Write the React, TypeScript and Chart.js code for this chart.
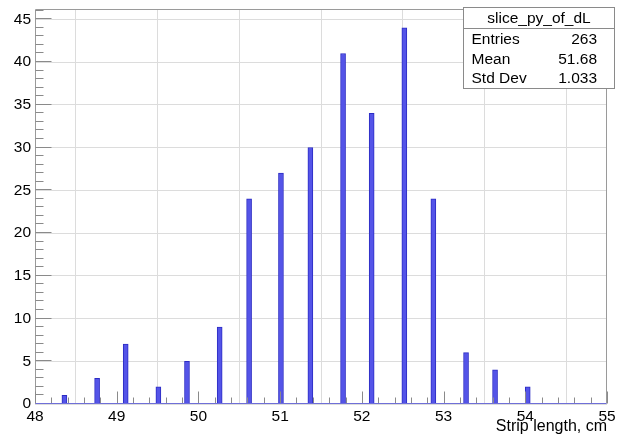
import React, { useEffect, useRef } from 'react';
import { Chart, registerables } from 'chart.js';

Chart.register(...registerables);

// Histogram bins (centres) and counts
const binCenters = [48.36, 48.76, 49.11, 49.51, 49.86, 50.26, 50.62, 51.01, 51.37, 51.77, 52.12, 52.52, 52.875, 53.275, 53.63, 54.03];
const counts = [1, 3, 7, 2, 5, 9, 24, 27, 30, 41, 34, 44, 24, 6, 4, 2];

const xTicks = [48, 49, 50, 51, 52, 53, 54, 55];
const yTicks = [0, 5, 10, 15, 20, 25, 30, 35, 40, 45];
const xMin = 48;
const xMax = 55;
const yMax = 46.2;

const xTitle = 'Strip length, cm';
const statsTitle = 'slice_py_of_dL';
const statsLabels = ['Entries', 'Mean', 'Std Dev'];
const statsValues = ['263', '51.68', '1.033'];

const FONT = "'Liberation Sans', Arial, Helvetica, sans-serif";

const rootFramePlugin = {
  id: 'rootFrame',
  afterDatasetsDraw(chart: any) {
    const { ctx, chartArea, scales } = chart;
    const { left, right, top, bottom } = chartArea;
    const xs = scales.x;
    const ys = scales.y;
    const L = Math.round(left) + 0.5;
    const R = Math.round(right) - 0.5;
    const T = Math.round(top) + 0.5;
    const B = Math.round(bottom) - 0.5;
    ctx.save();
    ctx.lineWidth = 1;
    ctx.strokeStyle = '#9a9a9a';
    // frame
    ctx.beginPath();
    ctx.moveTo(L, B);
    ctx.lineTo(L, T);
    ctx.lineTo(R, T);
    ctx.lineTo(R, B);
    ctx.stroke();
    // y ticks (inward)
    ctx.strokeStyle = '#8a8a8a';
    ctx.beginPath();
    for (let v = 0; v <= Math.floor(yMax); v += 1) {
      const py = Math.round(ys.getPixelForValue(v)) - 0.5;
      const len = v % 5 === 0 ? 16 : 8;
      ctx.moveTo(L, py);
      ctx.lineTo(L + len, py);
    }
    ctx.stroke();
    // x ticks (inward)
    ctx.beginPath();
    for (let i = 0; i <= (xMax - xMin) * 5; i++) {
      const v = xMin + i * 0.2;
      const px = Math.round(xs.getPixelForValue(v)) + 0.5;
      const len = i % 5 === 0 ? 12 : 6;
      ctx.moveTo(px, B);
      ctx.lineTo(px, B - len);
    }
    ctx.stroke();
    // histogram baseline (blue outline at zero)
    ctx.strokeStyle = '#6f6fd8';
    ctx.beginPath();
    ctx.moveTo(L, B);
    ctx.lineTo(R, B);
    ctx.stroke();
    ctx.restore();
  },
  afterDraw(chart: any) {
    const { ctx } = chart;
    const bx = 463.5, by = 7.5, bw = 151, bh = 81;
    ctx.save();
    ctx.fillStyle = '#ffffff';
    ctx.fillRect(bx, by, bw, bh);
    ctx.strokeStyle = '#8a8a8a';
    ctx.lineWidth = 1;
    ctx.strokeRect(bx, by, bw, bh);
    ctx.beginPath();
    ctx.moveTo(bx, 28.5);
    ctx.lineTo(bx + bw, 28.5);
    ctx.stroke();
    ctx.fillStyle = '#000';
    ctx.font = `15.5px ${FONT}`;
    ctx.textBaseline = 'middle';
    ctx.textAlign = 'center';
    ctx.fillText(statsTitle, bx + bw / 2, 18.5);
    const rowsY = [40, 59.5, 78.5];
    statsLabels.forEach((lab, i) => {
      ctx.textAlign = 'left';
      ctx.fillText(lab, 471.5, rowsY[i]);
      ctx.textAlign = 'right';
      ctx.fillText(statsValues[i], 597, rowsY[i]);
    });
    ctx.restore();
  },
};

export default function App() {
  const canvasRef = useRef<HTMLCanvasElement | null>(null);

  useEffect(() => {
    document.body.style.margin = '0';
    const canvas = canvasRef.current;
    if (!canvas) return;
    const chart = new Chart(canvas, {
      type: 'bar',
      data: {
        datasets: [
          {
            data: binCenters.map((x, i) => ({ x, y: counts[i] })),
            backgroundColor: 'rgb(84, 84, 232)',
            borderColor: 'rgb(44, 44, 196)',
            borderWidth: 1,
            borderSkipped: 'bottom',
            barThickness: 5,
          } as any,
        ],
      },
      options: {
        animation: false,
        responsive: false,
        devicePixelRatio: 1,
        layout: { padding: { top: 9, right: 14, left: 0, bottom: 0 } },
        plugins: {
          legend: { display: false },
          tooltip: { enabled: false },
          title: { display: false },
        },
        scales: {
          x: {
            type: 'linear',
            min: xMin,
            max: xMax,
            offset: false,
            afterBuildTicks: (s: any) => {
              s.ticks = xTicks.map((v) => ({ value: v }));
            },
            afterFit: (s: any) => {
              s.height = 31;
              s.paddingLeft = 0;
              s.paddingRight = 0;
            },
            grid: { color: '#dcdcdc', drawTicks: false, lineWidth: 1 },
            border: { display: false },
            ticks: {
              autoSkip: false,
              maxRotation: 0,
              padding: 3,
              color: '#000',
              font: { family: FONT, size: 15.5 },
              callback: (v: any) => String(v),
            },
            title: {
              display: true,
              text: xTitle,
              align: 'end',
              color: '#000',
              padding: { top: 0, bottom: -1 },
              font: { family: FONT, size: 16 },
            },
          },
          y: {
            type: 'linear',
            min: 0,
            max: yMax,
            afterBuildTicks: (s: any) => {
              s.ticks = yTicks.map((v) => ({ value: v }));
            },
            afterFit: (s: any) => {
              s.width = 35;
              s.paddingTop = 0;
              s.paddingBottom = 0;
            },
            grid: { color: '#dcdcdc', drawTicks: false, lineWidth: 1 },
            border: { display: false },
            ticks: {
              padding: 4,
              color: '#000',
              font: { family: FONT, size: 15.5 },
              callback: (v: any) => String(v),
            },
          },
        },
      } as any,
      plugins: [rootFramePlugin],
    });
    return () => chart.destroy();
  }, []);

  return (
    <div style={{ width: 621, height: 435, background: '#fff' }}>
      <canvas ref={canvasRef} width={621} height={435} style={{ display: 'block', width: 621, height: 435 }} />
    </div>
  );
}
